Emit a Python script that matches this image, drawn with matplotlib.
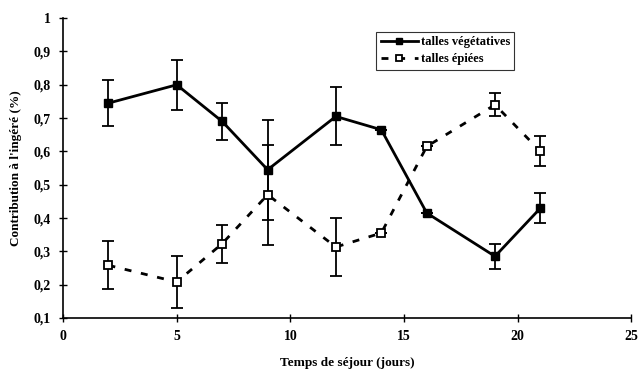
import matplotlib.pyplot as plt
from matplotlib.lines import Line2D
import numpy as np

days = [2, 5, 7, 9, 12, 14, 16, 19, 21]
vegetatives = [0.745, 0.80, 0.69, 0.545, 0.705, 0.665, 0.415, 0.285, 0.43]
vegetatives_err = [0.07, 0.075, 0.055, 0.15, 0.087, 0, 0, 0.037, 0.045]
epiees = [0.258, 0.208, 0.323, 0.47, 0.313, 0.355, 0.615, 0.74, 0.60]
epiees_err = [0.072, 0.077, 0.057, 0.15, 0.087, 0, 0, 0.035, 0.045]

yticks = [0.1, 0.2, 0.3, 0.4, 0.5, 0.6, 0.7, 0.8, 0.9, 1.0]
ylabels = ["0,1", "0,2", "0,3", "0,4", "0,5", "0,6", "0,7", "0,8", "0,9", "1"]

plt.rcParams['font.family'] = ['Liberation Serif', 'DejaVu Serif']
plt.rcParams['font.weight'] = 'bold'

fig = plt.figure(figsize=(6.43, 3.71), dpi=100)
ax = fig.add_axes([0.098, 0.143, 0.884, 0.808])

dash = (0, (2.5, 3.5))
ax.errorbar(days, vegetatives, yerr=vegetatives_err, color='black', linewidth=2,
            marker='s', markersize=5.5, markerfacecolor='black', capsize=4,
            elinewidth=1.3, capthick=1.3)
ax.errorbar(days, epiees, yerr=epiees_err, color='black', linewidth=2,
            linestyle=dash, marker='s', markersize=5.5,
            markerfacecolor='white', markeredgewidth=1.3, capsize=4,
            elinewidth=1.3, capthick=1.3)

ax.set_xlim(0, 25)
ax.set_ylim(0.1, 1.0)
ax.set_xticks([0, 5, 10, 15, 20, 25])
ax.set_yticks(yticks)
ax.set_yticklabels(ylabels)
ax.spines['top'].set_visible(False)
ax.spines['right'].set_visible(False)
ax.spines['left'].set_linewidth(1.2)
ax.spines['bottom'].set_linewidth(1.2)
ax.tick_params(direction='inout', length=6, width=1, labelsize=10, pad=6)

ax.set_xlabel("Temps de séjour (jours)", fontsize=9.5, fontweight='bold', labelpad=10)
ax.set_ylabel("Contribution à l'ingéré (%)", fontsize=9.5, fontweight='bold', labelpad=8)

handles = [
    Line2D([], [], color='black', linewidth=2, marker='s', markersize=5,
           markerfacecolor='black'),
    Line2D([], [], color='black', linewidth=2, linestyle=dash, marker='s',
           markersize=5, markerfacecolor='white', markeredgewidth=1.3),
]
leg = ax.legend(handles, ['talles végétatives', 'talles épiées'],
                loc='upper left', bbox_to_anchor=(0.54, 0.975), fontsize=9,
                frameon=True, fancybox=False, handlelength=3.0, borderpad=0.35,
                labelspacing=0.4, handletextpad=0.2)
leg.get_frame().set_edgecolor('black')
leg.get_frame().set_linewidth(0.8)

fig.savefig('out.png', dpi=100)
